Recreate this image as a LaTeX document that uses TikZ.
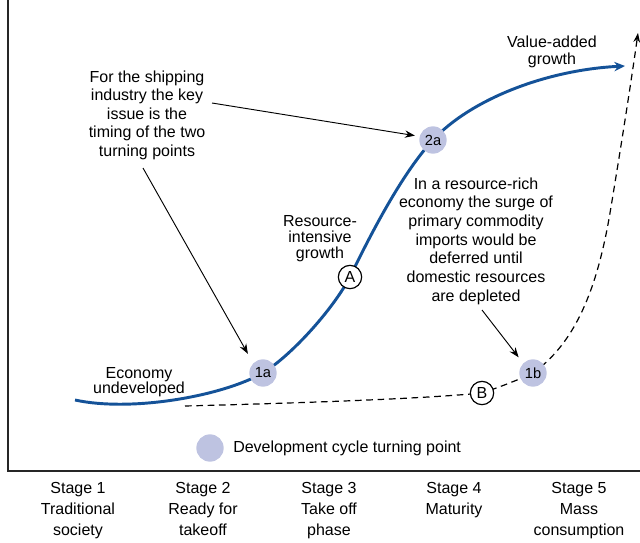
\documentclass[tikz,border=0pt]{standalone}
\usepackage{fontspec}
\setmainfont{Liberation Sans}
\usetikzlibrary{arrows.meta,backgrounds}
\definecolor{curveblue}{RGB}{20,82,152}
\definecolor{tpfill}{RGB}{190,195,225}
\begin{document}
\begin{tikzpicture}[x=0.75pt,y=-0.75pt,
  lbl/.style={inner sep=0pt,align=center,font=\fontsize{12}{13.9}\selectfont},
  tp/.style={circle,fill=tpfill,minimum size=20.5pt,inner sep=0pt,font=\fontsize{11}{13}\selectfont},
  ltr/.style={circle,draw=black,fill=white,line width=0.9pt,minimum size=17.5pt,inner sep=0pt,font=\fontsize{12}{14}\selectfont},
  pointer/.style={draw=black,line width=0.7pt,-{Stealth[length=7.5pt,width=5.5pt]}},
  growth/.style={draw=curveblue,line width=2.2pt,-{Stealth[length=8pt,width=7pt]}},
  alt/.style={draw=black,line width=0.9pt,dash pattern=on 5pt off 3.5pt,-{Stealth[length=7pt,width=5pt]}},
  axis/.style={draw=black!85,line width=1.2pt}]
\useasboundingbox (0,0) rectangle (640,543);

% axes
\coordinate (ytop) at (8,0);
\coordinate (orig) at (8,471);
\coordinate (xend) at (640,471);
\draw[axis] (ytop) -- (orig) -- (xend);

% turning points and markers
\node[tp] (1a) at (263,373) {1a};
\node[tp] (2a) at (433,140) {2a};
\node[tp] (1b) at (533,373) {1b};
\node[ltr] (A) at (350,277) {A};
\node[ltr] (B) at (482,393) {B};

% curves
\coordinate (g0) at (75,400);
\coordinate (gend) at (625,66);
\coordinate (d0) at (185,406);
\coordinate (d1) at (610,213);
\coordinate (dend) at (638,33);
\begin{pgfonlayer}{background}
\draw[growth] (g0) .. controls (130,412) and (220,397) .. (1a.center)
  .. controls (293,354) and (333,309) .. (A.center)
  .. controls (375,225) and (405,170) .. (2a.center)
  .. controls (470,100) and (545,70) .. (gend);
\draw[alt] (d0) .. controls (300,403) and (420,399) .. (B.center)
  .. controls (500,387) and (518,380) .. (1b.center)
  .. controls (575,343) and (597,290) .. (d1)
  .. controls (618,165) and (630,90) .. (dend);
\end{pgfonlayer}

% annotations
\node[lbl] (ship) at (147,115) {For the shipping\\industry the key\\issue is the\\timing of the two\\turning points};
\node[lbl,font=\fontsize{12}{12.75}\selectfont] (value) at (552,51.5) {Value-added\\growth};
\node[lbl,font=\fontsize{12}{12}\selectfont] (resint) at (320,239) {Resource-\\intensive\\growth};
\node[lbl,font=\fontsize{12}{14}\selectfont] (rich) at (476,241) {In a resource-rich\\economy the surge of\\primary commodity\\imports would be\\deferred until\\domestic resources\\are depleted};
\node[lbl,font=\fontsize{12}{11.25}\selectfont] (undev) at (139,382.5) {Economy\\undeveloped};

% pointers
\coordinate (s1) at (212,103);
\coordinate (s2) at (143,168);
\coordinate (s3) at (482,310);
\draw[pointer,shorten >=3.5pt] (s1) -- (2a.165);
\draw[pointer,shorten >=8pt] (s2) -- (1a.135);
\draw[pointer,shorten >=5.5pt] (s3) -- (1b.135);

% legend
\node[tp] (key) at (210,448) {};
\node[lbl,anchor=west] (keytext) at (233,448) {Development cycle turning point};

% stages
\tikzset{stage/.style={inner sep=0pt,align=center,anchor=north,font=\fontsize{12}{15.75}\selectfont}}
\node[stage] (st1) at (78,482) {Stage 1\\Traditional\\society};
\node[stage] (st2) at (203,482) {Stage 2\\Ready for\\takeoff};
\node[stage] (st3) at (329,482) {Stage 3\\Take off\\phase};
\node[stage] (st4) at (454,482) {Stage 4\\Maturity};
\node[stage] (st5) at (579,482) {Stage 5\\Mass\\consumption};
\end{tikzpicture}
\end{document}
